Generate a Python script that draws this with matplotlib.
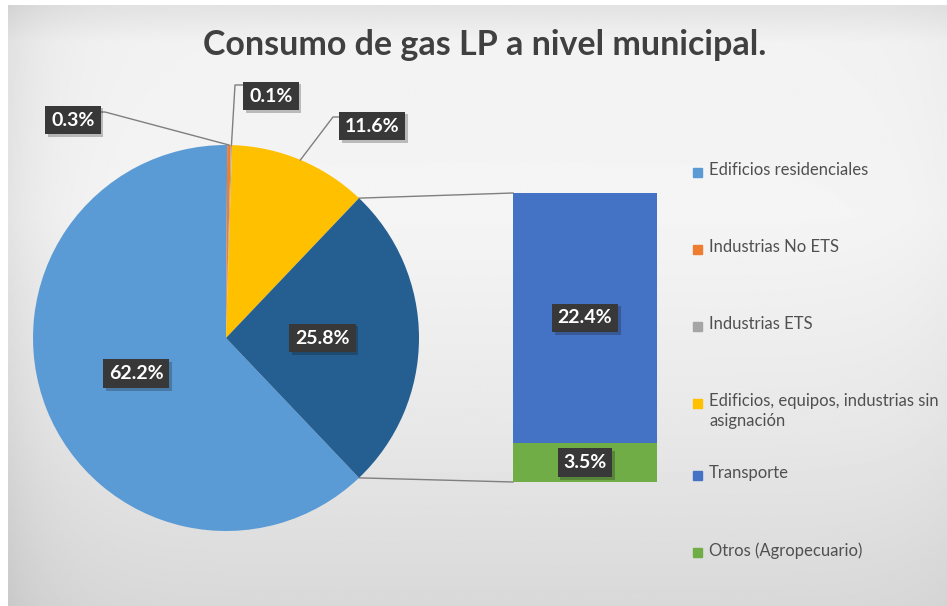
import numpy as np
import matplotlib.pyplot as plt
from matplotlib.patches import Rectangle
from matplotlib import patheffects

# data
pie_names = ['Edificios residenciales', 'Industrias No ETS', 'Industrias ETS',
             'Edificios, equipos, industrias sin\nasignación', 'Otros']
pie_values = [62.2, 0.3, 0.1, 11.6, 25.8]
bar_names = ['Transporte', 'Otros (Agropecuario)']
bar_values = [22.4, 3.5]
legend_names = ['Edificios residenciales', 'Industrias No ETS', 'Industrias ETS',
                'Edificios, equipos, industrias sin\nasignación', 'Transporte',
                'Otros (Agropecuario)']
legend_colors = ['#5B9BD5', '#ED7D31', '#A5A5A5', '#FFC000', '#4472C4', '#70AD47']
pie_colors = ['#5B9BD5', '#ED7D31', '#A5A5A5', '#FFC000', '#255E91']

W, H = 947, 606
fig = plt.figure(figsize=(W / 100, H / 100), dpi=100)
ax = fig.add_axes([0, 0, 1, 1])

# background gradient (chart area)
gy = np.linspace(0, 1, 300)[:, None]
gx = np.linspace(0, 1, 400)[None, :]
vert = np.interp(gy, [0, 0.06, 0.35, 0.7, 1], [0.89, 0.95, 0.96, 0.91, 0.85])
horiz = 1 - 0.07 * np.exp(-gx / 0.05) - 0.02 * np.exp(-(1 - gx) / 0.05)
bg = np.clip(vert * horiz, 0, 1)
ax.imshow(bg, cmap='gray', vmin=0, vmax=1, extent=(8, W, 0, H - 5),
          aspect='auto', zorder=0, interpolation='bilinear')

# pie
cx, cy, r = 226, 268, 193
start = -pie_values[-1] / 100 * 360 / 2
wedges, _ = ax.pie(pie_values, colors=pie_colors, startangle=start, counterclock=False,
                   center=(cx, cy), radius=r, wedgeprops=dict(linewidth=0))
for w in wedges:
    w.set_zorder(2)

box = dict(boxstyle='square,pad=0.3', fc='#383838', ec='none')
shadow = [patheffects.withSimplePatchShadow(offset=(2, -2), alpha=0.25)]


def label(x, y, s):
    t = ax.text(x, y, s, ha='center', va='center', color='white', fontsize=14,
                fontweight='bold', family='Lato', bbox=box, zorder=5)
    t.get_bbox_patch().set_path_effects(shadow)


def edge_point(w, frac=1.0):
    a = np.deg2rad((w.theta1 + w.theta2) / 2)
    return cx + frac * r * np.cos(a), cy + frac * r * np.sin(a)


fmt = ['{:.1f}%'.format(v) for v in pie_values]
# big slices: inside
for i in (0, 4):
    label(*edge_point(wedges[i], 0.5), fmt[i])

# small slices with leader lines
lc = '#7f7f7f'
ex, ey = edge_point(wedges[1])
ax.plot([99, 105, ex], [494, 494, ey], color=lc, lw=1, zorder=3)
label(73, 486, fmt[1])
ex, ey = edge_point(wedges[2])
ax.plot([246, 235, ex], [521, 521, ey], color=lc, lw=1, zorder=3)
label(271, 510, fmt[2])
ex, ey = edge_point(wedges[3])
ax.plot([341, 333, ex], [489, 489, ey], color=lc, lw=1, zorder=3)
label(372, 480, fmt[3])

# bar of pie
bar_x, bar_w, bar_bottom, bar_h = 585, 144, 124, 289
scale = bar_h / sum(bar_values)
bottoms = bar_bottom + scale * np.concatenate([[0], np.cumsum(bar_values[::-1])[:-1]])
for v, b, c in zip(bar_values[::-1], bottoms, legend_colors[:3:-1]):
    ax.bar(bar_x, v * scale, bottom=b, width=bar_w, color=c, zorder=2)
for v, b in zip(bar_values[::-1], bottoms):
    label(bar_x, b + v * scale / 2, '{:.1f}%'.format(v))

# connector lines
t_hi = np.deg2rad(wedges[4].theta2)
t_lo = np.deg2rad(wedges[4].theta1)
ax.plot([cx + r * np.cos(t_hi), bar_x - bar_w / 2], [cy + r * np.sin(t_hi), bar_bottom + bar_h],
        color=lc, lw=1, zorder=1)
ax.plot([cx + r * np.cos(t_lo), bar_x - bar_w / 2], [cy + r * np.sin(t_lo), bar_bottom],
        color=lc, lw=1, zorder=1)

# title
ax.text(485, 561, 'Consumo de gas LP a nivel municipal.', ha='center', va='center',
        fontsize=24.5, fontweight='bold', family='Lato', color='#404040')

# legend
ly = 606 - 172
for name, c in zip(legend_names, legend_colors):
    ax.add_patch(Rectangle((693, ly - 4.5), 9, 9, color=c, zorder=3))
    ax.text(709, ly + 10, name, ha='left', va='top', fontsize=12, family='Lato',
            color='#505050', linespacing=1.3)
    ly -= 77 if '\n' not in name else 72

ax.set_xlim(0, W)
ax.set_ylim(0, H)
ax.set_aspect('auto')
ax.axis('off')
fig.savefig('out.png', dpi=100, facecolor='white')
